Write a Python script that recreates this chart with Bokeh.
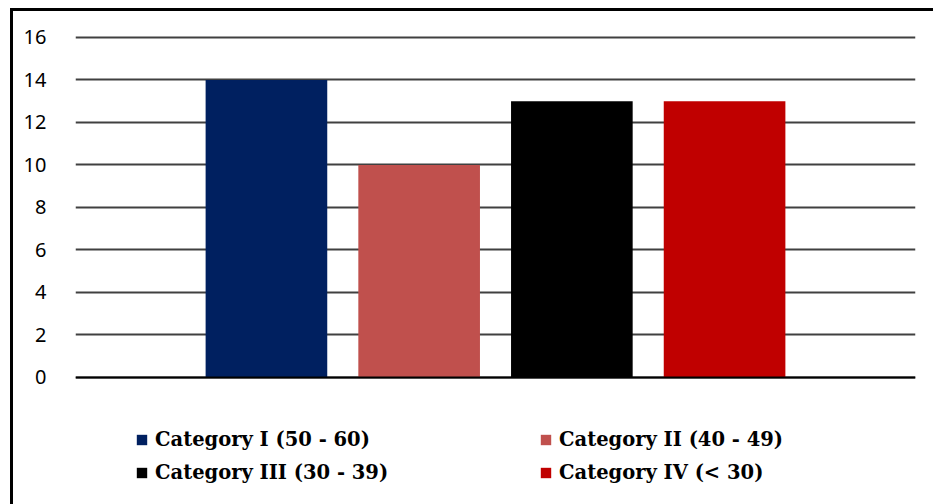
from bokeh.plotting import figure
from bokeh.layouts import column
from bokeh.models import Range1d, FixedTicker, Legend, LegendItem
from bokeh.embed import file_html
from bokeh.resources import INLINE

# ---- data ----
series_names = ["Category I (50 - 60)", "Category II (40 - 49)",
                "Category III (30 - 39)", "Category IV (< 30)"]
series_values = [14, 10, 13, 13]
series_colors = ["#002060", "#C0504D", "#000000", "#C00000"]
y_ticks = [0, 2, 4, 6, 8, 10, 12, 14, 16]

# single category, series dodged within it
bar_step = 0.1818
bar_width = 0.1448

W, H = 920, 493
p = figure(width=W, height=H, output_backend="svg", toolbar_location=None,
           x_range=Range1d(-0.5, 0.5), y_range=Range1d(-5.98, 16.8),
           min_border_left=62, min_border_right=18, min_border_top=9,
           min_border_bottom=0)

p.outline_line_color = None
p.xaxis.visible = False
p.xgrid.grid_line_color = None
p.ygrid.ticker = FixedTicker(ticks=y_ticks)
p.ygrid.grid_line_color = "#404040"
p.ygrid.grid_line_width = 2

ax = p.yaxis[0]
ax.ticker = FixedTicker(ticks=y_ticks)
ax.axis_line_color = None
ax.major_tick_line_color = None
ax.minor_tick_line_color = None
ax.major_label_standoff = 23
ax.major_label_text_font = "Noto Sans"
ax.major_label_text_font_size = "20px"
ax.major_label_text_color = "#000000"

items = []
n = len(series_values)
for i, (name, val, col) in enumerate(zip(series_names, series_values, series_colors)):
    r = p.vbar(x=[(i - (n - 1) / 2) * bar_step], top=[val], bottom=0,
               width=bar_width, fill_color=col, line_color=None)
    items.append(LegendItem(label=name, renderers=[r]))

# zero line drawn black over grid
p.hspan(y=[0], line_color="#000000", line_width=2)

def mk_legend(its, x, y):
    lg = Legend(items=its, location=(x, y), orientation="vertical",
                glyph_width=13, glyph_height=13, label_standoff=7,
                label_text_font="DejaVu Serif", label_text_font_style="bold",
                label_text_font_size="19.5px", label_text_color="#000000",
                label_height=21, spacing=10,
                padding=0, margin=0, border_line_color=None,
                background_fill_alpha=0)
    return lg

p.add_layout(mk_legend([items[0], items[2]], 60, 20))
p.add_layout(mk_legend([items[1], items[3]], 464, 20))

layout = column(p, styles={"margin-left": "10px", "margin-top": "8px",
                           "border-left": "3px solid black",
                           "border-top": "3px solid black"})

open("out.html", "w").write(file_html(layout, INLINE))
